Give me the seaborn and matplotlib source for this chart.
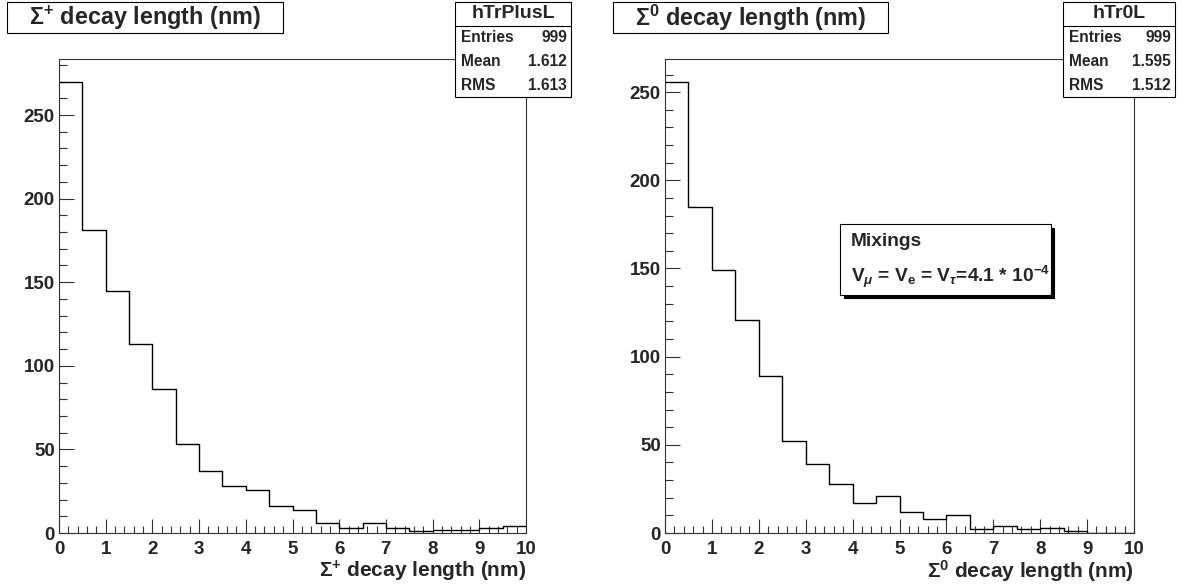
import pandas as pd
import matplotlib
matplotlib.use("Agg")
import matplotlib.pyplot as plt
from matplotlib.patches import Rectangle
from matplotlib.lines import Line2D
from matplotlib.ticker import MultipleLocator
import seaborn as sns

# ---- data ----
bin_centres = [0.25, 0.75, 1.25, 1.75, 2.25, 2.75, 3.25, 3.75, 4.25, 4.75,
               5.25, 5.75, 6.25, 6.75, 7.25, 7.75, 8.25, 8.75, 9.25, 9.75]

sigma_plus_counts = [270, 181, 145, 113, 86, 53, 37, 28, 26, 16,
                     14, 6, 3, 6, 3, 1, 2, 2, 3, 4]
sigma_zero_counts = [256, 185, 149, 121, 89, 52, 39, 28, 17, 21,
                     12, 8, 10, 2, 4, 2, 3, 1, 0, 0]

hist_names = ["hTrPlusL", "hTr0L"]
hist_entries = ["999", "999"]
hist_means = ["1.612", "1.595"]
hist_rms = ["1.613", "1.512"]
titles = [r"$\Sigma^{+}$ decay length (nm)", r"$\Sigma^{0}$ decay length (nm)"]
mixing_label = "Mixings"
mixing_formula = r"V$_{\mu}$ = V$_{\mathbf{e}}$ = V$_{\tau}$=4.1 * 10$^{\mathbf{-4}}$"

# ---- style ----
sns.set_style("white")
plt.rcParams["font.family"] = ["Liberation Sans", "DejaVu Sans"]
plt.rcParams["font.weight"] = "bold"
plt.rcParams["mathtext.fontset"] = "custom"
plt.rcParams["mathtext.rm"] = "Liberation Sans"
plt.rcParams["mathtext.bf"] = "Liberation Sans:bold"
plt.rcParams["mathtext.it"] = "Liberation Sans:italic"

W, H = 1199, 587
fig = plt.figure(figsize=(W / 100, H / 100), dpi=100)


def box(x0, y0, x1, y1, **kw):
    # rectangle given in pixel coords from top-left
    r = Rectangle((x0 / W, 1 - y1 / H), (x1 - x0) / W, (y1 - y0) / H,
                  transform=fig.transFigure, **kw)
    fig.add_artist(r)
    return r


def ftext(x, y, s, **kw):
    fig.text(x / W, 1 - y / H, s, **kw)


axes_px = [(59, 526), (665, 1134)]
stat_px = [(455, 571), (1063, 1175)]
title_px = [(7, 283), (613, 888)]
counts_all = [sigma_plus_counts, sigma_zero_counts]
edge = "#333333"

for i in range(2):
    x0, x1 = axes_px[i]
    ax = fig.add_axes([x0 / W, 1 - 533 / H, (x1 - x0) / W, (533 - 59) / H])
    counts = counts_all[i]
    df = pd.DataFrame({"length": bin_centres, "count": counts})
    sns.histplot(data=df, x="length", weights="count", binwidth=0.5, binrange=(0, 10),
                 element="step", fill=False, color="black", linewidth=1.0, ax=ax)
    ax.set_xlim(0, 10)
    ax.set_ylim(0, max(counts) * 1.05)
    ax.set_ylabel("")
    ax.set_xlabel(titles[i], loc="right", fontsize=15, fontweight="bold", labelpad=0)
    ax.xaxis.set_major_locator(MultipleLocator(1))
    ax.xaxis.set_minor_locator(MultipleLocator(0.2))
    ax.yaxis.set_major_locator(MultipleLocator(50))
    ax.yaxis.set_minor_locator(MultipleLocator(10))
    ax.tick_params(axis="x", which="major", direction="in", length=10, width=0.8,
                   labelsize=13.5, pad=6, bottom=True, top=False, color=edge)
    ax.tick_params(axis="x", which="minor", direction="in", length=5, width=0.8,
                   bottom=True, top=False, color=edge)
    ax.tick_params(axis="y", which="major", direction="in", length=11, width=0.8,
                   labelsize=13.5, pad=3, left=True, right=False, color=edge)
    ax.tick_params(axis="y", which="minor", direction="in", length=5.8, width=0.8,
                   left=True, right=False, color=edge)
    for lab in ax.get_xticklabels() + ax.get_yticklabels():
        lab.set_fontweight("bold")
    for sp in ax.spines.values():
        sp.set_linewidth(0.8)
        sp.set_color(edge)

    # title box
    tx0, tx1 = title_px[i]
    box(tx0, 2, tx1, 33, facecolor="white", edgecolor="black", linewidth=0.8, zorder=3)
    ftext((tx0 + tx1) / 2, 18, titles[i], ha="center", va="center",
          fontsize=16.8, fontweight="bold", zorder=4)

    # stats box
    sx0, sx1 = stat_px[i]
    box(sx0, 2, sx1, 97, facecolor="white", edgecolor="black", linewidth=0.8, zorder=3)
    fig.add_artist(Line2D([sx0 / W, sx1 / W], [1 - 26 / H, 1 - 26 / H],
                          transform=fig.transFigure, color="black", linewidth=0.8, zorder=4))
    ftext((sx0 + sx1) / 2, 14, hist_names[i], ha="center", va="center",
          fontsize=14, fontweight="bold", zorder=4)
    rows = [("Entries", hist_entries[i]), ("Mean", hist_means[i]), ("RMS", hist_rms[i])]
    for k, (lab, val) in enumerate(rows):
        y = 38 + 24 * k
        ftext(sx0 + 6, y, lab, ha="left", va="center", fontsize=11.2,
              fontweight="bold", zorder=4)
        ftext(sx1 - 4, y, val, ha="right", va="center", fontsize=11.2,
              fontweight="bold", zorder=4)

# mixings box on the right panel
box(844, 228, 1054, 298, facecolor="black", edgecolor="black", linewidth=0.8, zorder=3)
box(840, 224, 1051, 295, facecolor="white", edgecolor="black", linewidth=0.8, zorder=4)
ftext(851, 242, mixing_label, ha="left", va="center", fontsize=13.8,
      fontweight="bold", zorder=5)
ftext(851, 277, mixing_formula, ha="left", va="center", fontsize=13.8,
      fontweight="bold", zorder=5)

fig.savefig("out.png", dpi=100)
